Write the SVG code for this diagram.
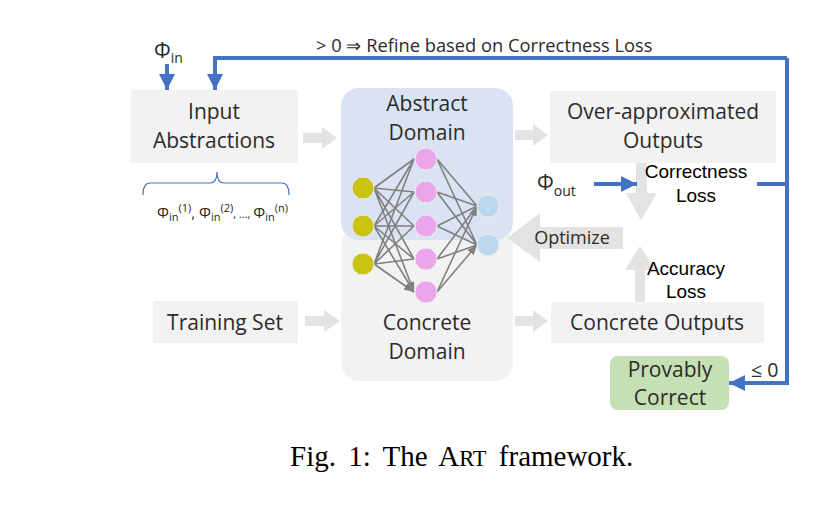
<svg xmlns="http://www.w3.org/2000/svg" width="837" height="508" viewBox="0 0 837 508">
<style>
.lbl{font-family:"Open Sans","Noto Sans",sans-serif;font-size:21px;fill:#2b2b2b;text-anchor:middle}
.ar{font-family:"Liberation Sans",Arial,sans-serif;font-size:19px;fill:#000;text-anchor:middle}
.box{fill:#F2F2F2}
.garrow{fill:#E3E3E3}
.blue{stroke:#4472C4;stroke-width:4;fill:none}
.nn{stroke:#808080;stroke-width:1.6;fill:none;marker-end:url(#ah)}
.cap{font-family:"Liberation Serif","Times New Roman",serif;font-size:29px;fill:#000;word-spacing:5px}
</style>
<defs>
<marker id="ah" markerUnits="userSpaceOnUse" markerWidth="10" markerHeight="8" refX="10" refY="4" orient="auto">
<path d="M0,0 L10,4 L0,8 Z" fill="#808080"/>
</marker>
<marker id="bh" markerUnits="userSpaceOnUse" markerWidth="16" markerHeight="16" refX="16" refY="8" orient="auto">
<path d="M0,0 L16,8 L0,16 Z" fill="#4472C4"/>
</marker>
</defs>
<rect width="837" height="508" fill="#fff"/>

<g id="concrete-domain">
<rect class="box" x="341" y="228" width="172" height="153" rx="18"/>
<text class="lbl" x="427" y="330">Concrete</text>
<text class="lbl" x="427" y="359">Domain</text>
</g>
<g id="abstract-domain">
<rect x="341" y="88" width="172" height="152" rx="18" fill="#DAE3F3"/>
<text class="lbl" x="427" y="111">Abstract</text>
<text class="lbl" x="427" y="140">Domain</text>
</g>

<g id="input-abstractions">
<rect class="box" x="131" y="90" width="167" height="73"/>
<text class="lbl" x="214" y="119">Input</text>
<text class="lbl" x="214" y="148">Abstractions</text>
<path d="M143,195 Q143,183 150,183 L210,183 Q217,183 217,172 Q217,183 224,183 L282,183 Q289,183 289,195" fill="none" stroke="#4472C4" stroke-width="1.2"/>
<text font-family="Open Sans,sans-serif" font-size="15" fill="#262626" x="157" y="218">Φ<tspan font-size="11" dy="3">in</tspan><tspan font-size="11" dy="-9">(1)</tspan><tspan dy="6">, Φ</tspan><tspan font-size="11" dy="3">in</tspan><tspan font-size="11" dy="-9">(2)</tspan><tspan dy="6" font-size="11">, …, </tspan><tspan>Φ</tspan><tspan font-size="11" dy="3">in</tspan><tspan font-size="11" dy="-9">(n)</tspan></text>
</g>

<g id="training-set">
<rect class="box" x="153" y="301" width="145" height="42"/>
<text class="lbl" x="225" y="330">Training Set</text>
</g>

<g id="over-approximated-outputs">
<rect class="box" x="550" y="91" width="226" height="72"/>
<text class="lbl" x="663" y="119">Over-approximated</text>
<text class="lbl" x="663" y="148">Outputs</text>
</g>

<g id="concrete-outputs">
<rect class="box" x="551" y="302" width="213" height="41"/>
<text class="lbl" x="657" y="330">Concrete Outputs</text>
</g>

<g id="provably-correct">
<rect x="610" y="356" width="119" height="54" rx="8" fill="#C5E0B4"/>
<text class="lbl" x="670" y="377">Provably</text>
<text class="lbl" x="670" y="405">Correct</text>
</g>

<g id="network">
<g id="nn-edges">
<path class="nn" d="M374,188 L414,159 M374,188 L414,192 M374,188 L414,226 M374,188 L414,259 M374,188 L414,292"/>
<path class="nn" d="M374,226 L414,159 M374,226 L414,192 M374,226 L414,226 M374,226 L414,259 M374,226 L414,292"/>
<path class="nn" d="M374,264 L414,159 M374,264 L414,192 M374,264 L414,226 M374,264 L414,259 M374,264 L414,292"/>
<path class="nn" d="M437,159 L477,206 M437,192 L477,206 M437,226 L477,206 M437,259 L477,206 M437,292 L477,206"/>
<path class="nn" d="M437,159 L477,245 M437,192 L477,245 M437,226 L477,245 M437,259 L477,245 M437,292 L477,245"/>
</g>
<g stroke="#EDEDED" stroke-width="1">
<circle cx="363" cy="188" r="11" fill="#C9C412"/>
<circle cx="363" cy="226" r="11" fill="#C9C412"/>
<circle cx="363" cy="264" r="11" fill="#C9C412"/>
<circle cx="426" cy="159" r="11" fill="#EAA6E8"/>
<circle cx="426" cy="192" r="11" fill="#EAA6E8"/>
<circle cx="426" cy="226" r="11" fill="#EAA6E8"/>
<circle cx="426" cy="259" r="11" fill="#EAA6E8"/>
<circle cx="426" cy="292" r="11" fill="#EAA6E8"/>
<circle cx="488" cy="206" r="11" fill="#BDD7EE"/>
<circle cx="488" cy="245" r="11" fill="#BDD7EE"/>
</g>
</g>

<g id="connectors">
<path class="garrow" d="M303,133 L322,133 L322,127 L337,138 L322,149 L322,143 L303,143 Z"/>
<path class="garrow" d="M515,130 L533,130 L533,124 L548,135 L533,146 L533,140 L515,140 Z"/>
<path class="garrow" d="M305,316 L324,316 L324,310 L340,321 L324,332 L324,326 L305,326 Z"/>
<path class="garrow" d="M515,316 L533,316 L533,310 L548,321 L533,332 L533,326 L515,326 Z"/>
<path class="garrow" d="M636,163 L647,163 L647,193 L657,193 L641,220 L626,193 L636,193 Z"/>
<path class="garrow" d="M635,302 L645,302 L645,270 L655,270 L640,246 L625,270 L635,270 Z"/>
<path class="garrow" d="M623,227 L540,227 L540,213 L507,238 L540,262 L540,249 L623,249 Z"/>
<text font-family="Open Sans,sans-serif" font-size="18" fill="#2b2b2b" x="572" y="244" text-anchor="middle">Optimize</text>

<path class="blue" d="M167,64 L167,90" marker-end="url(#bh)"/>
<path class="blue" d="M757,184 L787,184 M787,58 L787,383 L729,383" marker-end="url(#bh)"/>
<path class="blue" d="M787,58 L215,58 L215,90" marker-end="url(#bh)"/>
<path class="blue" d="M594,184 L637,184" marker-end="url(#bh)"/>

<text font-family="Open Sans,sans-serif" font-size="18.3" fill="#2b2b2b" x="316" y="52">&gt; 0 ⇒ Refine based on Correctness Loss</text>
<text font-family="Open Sans,sans-serif" font-size="21" fill="#2b2b2b" x="154" y="58">Φ<tspan font-size="14" dy="5">in</tspan></text>
<text font-family="Open Sans,sans-serif" font-size="21" fill="#2b2b2b" x="537" y="190">Φ<tspan font-size="14" dy="6">out</tspan></text>
<text class="ar" x="696" y="178">Correctness</text>
<text class="ar" x="696" y="202">Loss</text>
<text class="ar" x="686" y="275">Accuracy</text>
<text class="ar" x="686" y="298">Loss</text>
<text font-family="Open Sans,sans-serif" font-size="19.5" fill="#2b2b2b" x="751" y="377">≤ 0</text>
</g>

<text class="cap" x="290" y="466">Fig. 1: The A<tspan font-size="22.5">RT</tspan> framework.</text>
</svg>
